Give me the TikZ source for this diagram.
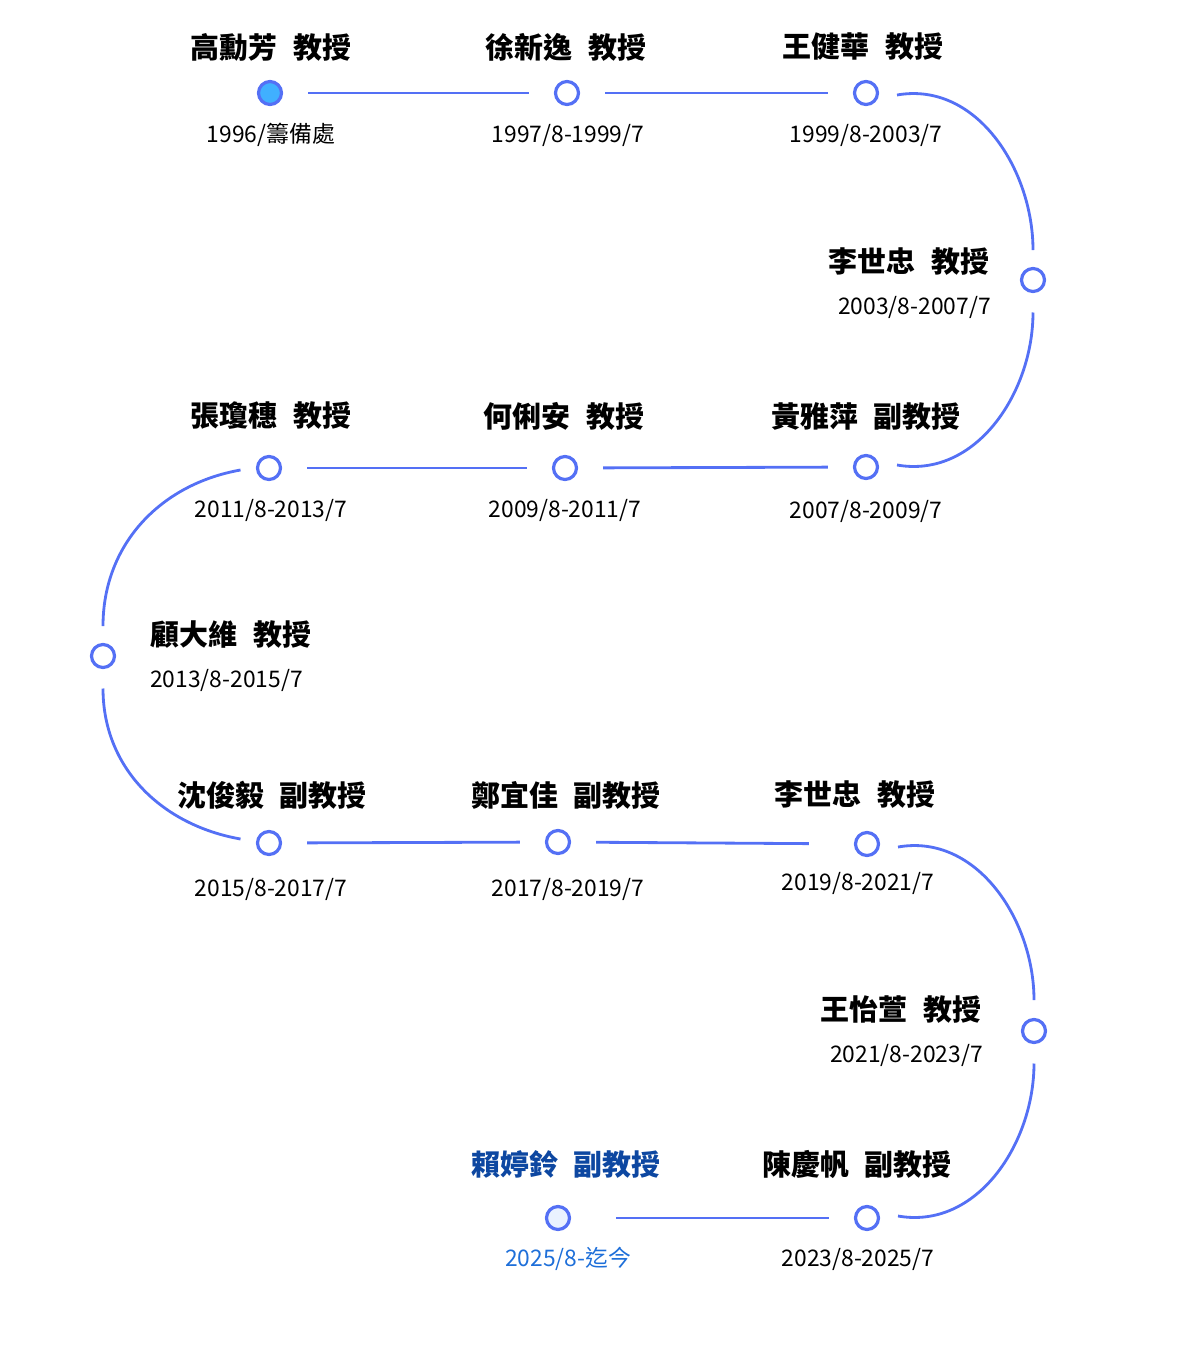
\documentclass[tikz,border=0pt]{standalone}
\usepackage{fontspec}
\setmainfont{Noto Sans CJK TC}
\definecolor{linkblue}{HTML}{5470F5}
\definecolor{nowfill}{HTML}{40B0FF}
\definecolor{lastfill}{HTML}{EAF2FF}
\definecolor{lastname}{HTML}{0D47A1}
\definecolor{lastdate}{HTML}{1E6FD9}
\tikzset{
  stop/.style={draw=linkblue, line width=3.2pt*0.57, circle, minimum size=0.46cm, inner sep=0pt, fill=white},
  link/.style={draw=linkblue, line width=1.6pt},
  who/.style={font=\fontsize{16.5}{18}\selectfont\bfseries},
  when/.style={font=\fontsize{13}{15}\selectfont},
}
\newcommand{\gap}{\hspace{0.55em}}
\begin{document}
\begin{tikzpicture}[x=0.02cm, y=-0.02cm]
  \useasboundingbox (0,0) rectangle (1200,1346);

  % stops
  \node[stop, fill=nowfill] (s1) at (270,93) {};
  \node[stop] (s2) at (567,93) {};
  \node[stop] (s3) at (866,93) {};
  \node[stop] (s4) at (1033,280) {};
  \node[stop] (s5) at (866,467) {};
  \node[stop] (s6) at (565,468) {};
  \node[stop] (s7) at (269,468) {};
  \node[stop] (s8) at (103,656) {};
  \node[stop] (s9) at (269,843) {};
  \node[stop] (s10) at (558,842) {};
  \node[stop] (s11) at (867,844) {};
  \node[stop] (s12) at (1034,1031) {};
  \node[stop] (s13) at (867,1218) {};
  \node[stop, fill=lastfill] (s14) at (558,1218) {};

  % straight links
  \draw[link, shorten <=0.5cm, shorten >=0.5cm] (s1) -- (s2);
  \draw[link, shorten <=0.5cm, shorten >=0.5cm] (s2) -- (s3);
  \draw[link, shorten <=0.5cm, shorten >=0.5cm] (s5) -- (s6);
  \draw[link, shorten <=0.5cm, shorten >=0.5cm] (s6) -- (s7);
  \draw[link, shorten <=0.5cm, shorten >=0.5cm] (s9) -- (s10);
  \draw[link, shorten <=0.5cm, shorten >=0.9cm] (s10) -- (s11);
  \draw[link, shorten <=0.5cm, shorten >=0.9cm] (s13) -- (s14);

  % curved links
  \draw[link] ([xshift=0.62cm,yshift=-0.04cm]s3.center) to[out=10, in=90] ([yshift=0.6cm]s4.center);
  \draw[link] ([yshift=-0.65cm]s4.center) to[out=-90, in=-10] ([xshift=0.62cm,yshift=0.04cm]s5.center);
  \draw[link] ([xshift=-0.57cm,yshift=-0.04cm]s7.center) to[out=190, in=90] ([yshift=0.6cm]s8.center);
  \draw[link] ([yshift=-0.65cm]s8.center) to[out=-90, in=170] ([xshift=-0.57cm,yshift=0.08cm]s9.center);
  \draw[link] ([xshift=0.62cm,yshift=-0.06cm]s11.center) to[out=10, in=90] ([yshift=0.62cm]s12.center);
  \draw[link] ([yshift=-0.65cm]s12.center) to[out=-90, in=-10] ([xshift=0.62cm,yshift=0.04cm]s13.center);

  % names
  \node[who] (n1) at (271,47) {高勳芳\gap 教授};
  \node[who] (n2) at (566,47) {徐新逸\gap 教授};
  \node[who] (n3) at (863,47) {王健華\gap 教授};
  \node[who, anchor=east] (n4) at (996,262) {李世忠\gap 教授};
  \node[who] (n5) at (866,416) {黃雅萍\gap 副教授};
  \node[who] (n6) at (564,416) {何俐安\gap 教授};
  \node[who] (n7) at (271,416) {張瓊穗\gap 教授};
  \node[who, anchor=west] (n8) at (144,635) {顧大維\gap 教授};
  \node[who] (n9) at (272,795) {沈俊毅\gap 副教授};
  \node[who] (n10) at (566,795) {鄭宜佳\gap 副教授};
  \node[who] (n11) at (855,795) {李世忠\gap 教授};
  \node[who, anchor=east] (n12) at (988,1010) {王怡萱\gap 教授};
  \node[who] (n13) at (857,1164) {陳慶帆\gap 副教授};
  \node[who, text=lastname] (n14) at (566,1164) {賴婷鈴\gap 副教授};

  % dates
  \node[when] (d1) at (271,135) {1996/籌備處};
  \node[when] (d2) at (568,135) {1997/8-1999/7};
  \node[when] (d3) at (866,135) {1999/8-2003/7};
  \node[when, anchor=east] (d4) at (997,307) {2003/8-2007/7};
  \node[when] (d5) at (866,511) {2007/8-2009/7};
  \node[when] (d6) at (565,510) {2009/8-2011/7};
  \node[when] (d7) at (271,510) {2011/8-2013/7};
  \node[when, anchor=west] (d8) at (144,680) {2013/8-2015/7};
  \node[when] (d9) at (271,889) {2015/8-2017/7};
  \node[when] (d10) at (568,889) {2017/8-2019/7};
  \node[when] (d11) at (858,883) {2019/8-2021/7};
  \node[when, anchor=east] (d12) at (989,1055) {2021/8-2023/7};
  \node[when] (d13) at (858,1259) {2023/8-2025/7};
  \node[when, text=lastdate] (d14) at (568,1259) {2025/8-迄今};
\end{tikzpicture}
\end{document}
